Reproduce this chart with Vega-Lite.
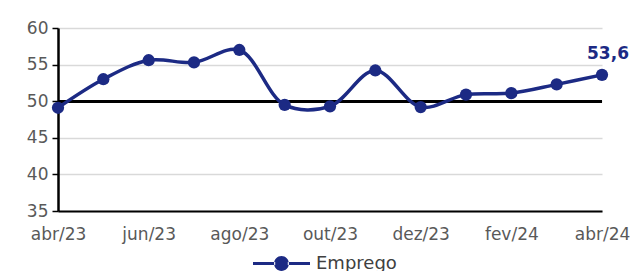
{
  "$schema": "https://vega.github.io/schema/vega-lite/v6.json",
  "width": 544,
  "height": 183,
  "autosize": "none",
  "padding": {"left": 58, "top": 28, "right": 31, "bottom": 60},
  "background": "white",
  "config": {
    "view": {"stroke": null},
    "font": "DejaVu Sans"
  },
  "data": {
    "values": [
      {"mes": "abr/23", "valor": 49.1, "serie": "Emprego"},
      {"mes": "mai/23", "valor": 53.0, "serie": "Emprego"},
      {"mes": "jun/23", "valor": 55.6, "serie": "Emprego"},
      {"mes": "jul/23", "valor": 55.3, "serie": "Emprego"},
      {"mes": "ago/23", "valor": 57.0, "serie": "Emprego"},
      {"mes": "set/23", "valor": 49.5, "serie": "Emprego"},
      {"mes": "out/23", "valor": 49.3, "serie": "Emprego"},
      {"mes": "nov/23", "valor": 54.2, "serie": "Emprego"},
      {"mes": "dez/23", "valor": 49.2, "serie": "Emprego"},
      {"mes": "jan/24", "valor": 50.9, "serie": "Emprego"},
      {"mes": "fev/24", "valor": 51.1, "serie": "Emprego"},
      {"mes": "mar/24", "valor": 52.3, "serie": "Emprego"},
      {"mes": "abr/24", "valor": 53.6, "serie": "Emprego", "rotulo": "53,6"}
    ]
  },
  "encoding": {
    "x": {
      "field": "mes",
      "type": "ordinal",
      "sort": null,
      "scale": {"type": "point", "padding": 0},
      "axis": {
        "title": null,
        "labelAngle": 0,
        "labelExpr": "indexof(['abr/23','jun/23','ago/23','out/23','dez/23','fev/24','abr/24'], datum.value) >= 0 ? datum.value : ''",
        "labelFont": "DejaVu Sans",
        "labelFontSize": 17,
        "labelColor": "#595959",
        "labelPadding": 15,
        "labelOverlap": false,
        "ticks": false,
        "domainColor": "#000000",
        "domainWidth": 2,
        "grid": false
      }
    },
    "y": {
      "field": "valor",
      "type": "quantitative",
      "scale": {"domain": [35, 60], "nice": false, "zero": false},
      "axis": {
        "title": null,
        "values": [35, 40, 45, 50, 55, 60],
        "labelFont": "DejaVu Sans",
        "labelFontSize": 17,
        "labelColor": "#595959",
        "labelPadding": 4,
        "tickColor": "#000000",
        "tickSize": 6,
        "tickWidth": 1.5,
        "domainColor": "#000000",
        "domainWidth": 2.5,
        "gridColor": "#d9d9d9",
        "gridWidth": 1.5
      }
    }
  },
  "layer": [
    {
      "mark": {"type": "rule", "color": "#000000", "strokeWidth": 2.5},
      "encoding": {
        "x": null,
        "y": {"datum": 50, "type": "quantitative"}
      }
    },
    {
      "mark": {"type": "line", "interpolate": "catmull-rom", "strokeWidth": 3.5},
      "encoding": {
        "color": {
          "field": "serie",
          "type": "nominal",
          "scale": {"range": ["#1c2a84"]},
          "legend": {
            "title": null,
            "orient": "none",
            "legendX": 195,
            "legendY": 207,
            "padding": 0,
            "symbolType": "M-1,-0.055L-0.22,-0.055L-0.22,0.055L-1,0.055Z M0.22,-0.055L1,-0.055L1,0.055L0.22,0.055Z M-0.26,0A0.26,0.26 0 1,0 0.26,0A0.26,0.26 0 1,0 -0.26,0Z",
            "symbolSize": 3249,
            "symbolStrokeWidth": 0,
            "symbolOpacity": 1,
            "symbolFillColor": "#1c2a84",
            "labelFont": "DejaVu Sans",
            "labelFontSize": 18,
            "labelColor": "#404040",
            "labelOffset": 6
          }
        }
      }
    },
    {
      "mark": {"type": "point", "filled": true, "size": 150, "opacity": 1, "color": "#1c2a84"}
    },
    {
      "transform": [{"filter": "datum.rotulo != null"}],
      "mark": {"type": "text", "font": "DejaVu Sans", "fontSize": 17, "fontWeight": "bold", "color": "#1c2a84", "dx": 6, "dy": -21},
      "encoding": {
        "text": {"field": "rotulo"}
      }
    }
  ]
}
